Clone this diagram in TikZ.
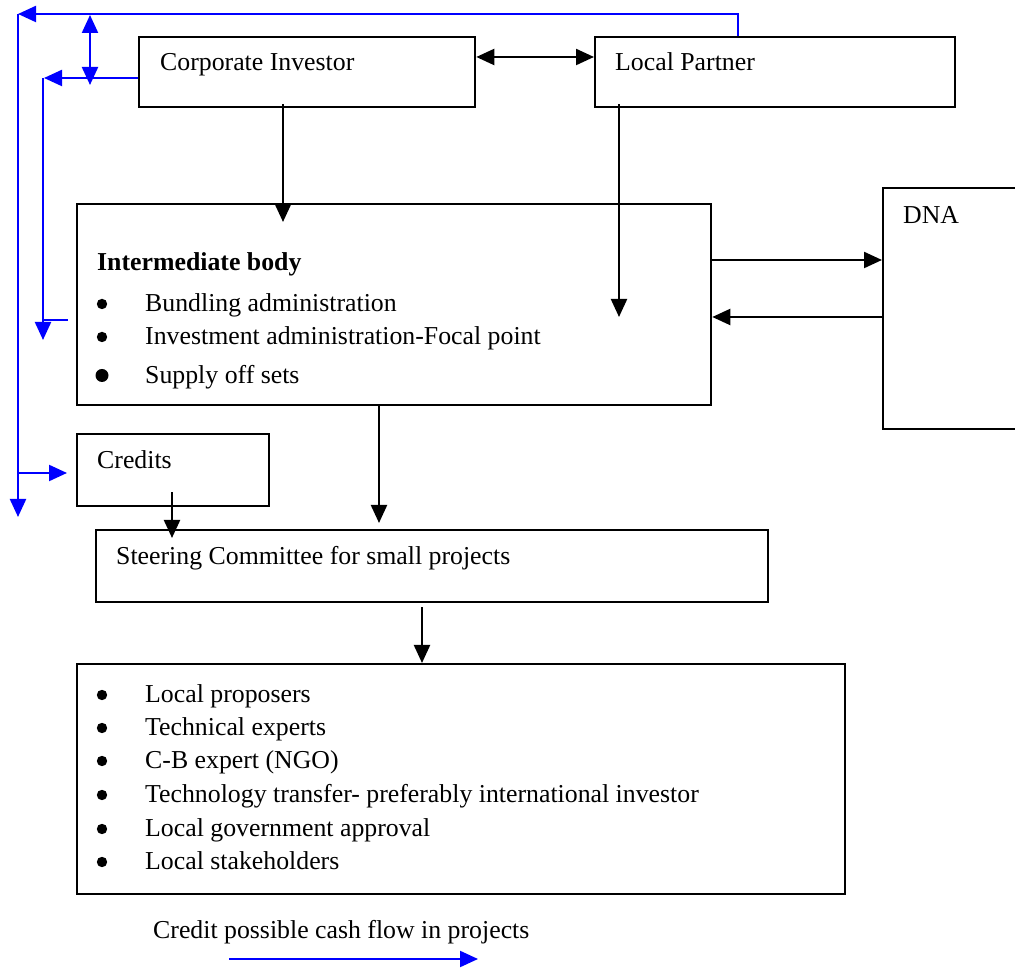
\documentclass[tikz,border=0pt]{standalone}
\usepackage{fontspec}
\setmainfont{Liberation Serif}
\usetikzlibrary{arrows.meta,calc}
\begin{document}
\begin{tikzpicture}[x=1pt,y=1pt,
  box/.style={draw=black,line width=2.3pt,rectangle,inner sep=0pt,anchor=north west},
  lbl/.style={anchor=base west,inner sep=0pt,font=\fontsize{25.8}{30}\selectfont},
  arr/.style={draw=black,line width=2.2pt,-{Triangle[width=16pt,length=18pt]}},
  darr/.style={draw=black,line width=2.2pt,{Triangle[width=16pt,length=18pt]}-{Triangle[width=16pt,length=18pt]}},
  flow/.style={draw=blue,line width=2.2pt,-{Triangle[width=16pt,length=18pt]}},
  dflow/.style={draw=blue,line width=2.2pt,{Triangle[width=16pt,length=18pt]}-{Triangle[width=16pt,length=18pt]}},
  line/.style={draw=blue,line width=2.2pt}]
\clip (0,0) rectangle (1015,969);

% boxes
\node[box,minimum width=336pt,minimum height=70pt] (ci) at (138,933) {};
\node[box,minimum width=360pt,minimum height=70pt] (lp) at (594,933) {};
\node[box,minimum width=634pt,minimum height=201pt] (ib) at (76,766) {};
\node[box,minimum width=200pt,minimum height=241pt] (dna) at (882,782) {};
\node[box,minimum width=192pt,minimum height=72pt] (cr) at (76,536) {};
\node[box,minimum width=672pt,minimum height=72pt] (sc) at (95,440) {};
\node[box,minimum width=768pt,minimum height=230pt] (bt) at (76,306) {};

% labels
\node[lbl] (tci) at (160,898) {Corporate Investor};
\node[lbl] (tlp) at (615,898) {Local Partner};
\node[lbl] (tdna) at (903,745) {DNA};
\node[lbl,font=\fontsize{25.8}{30}\selectfont\bfseries] (tib) at (97,698) {Intermediate body};
\node[lbl] (ib1) at (145,657) {Bundling administration};
\node[lbl] (ib2) at (145,624) {Investment administration-Focal point};
\node[lbl] (ib3) at (145,585) {Supply off sets};
\node[lbl] (tcr) at (97,500) {Credits};
\node[lbl] (tsc) at (116,404) {Steering Committee for small projects};
\node[lbl] (bt1) at (145,266) {Local proposers};
\node[lbl] (bt2) at (145,233) {Technical experts};
\node[lbl] (bt3) at (145,200) {C-B expert (NGO)};
\node[lbl] (bt4) at (145,166) {Technology transfer- preferably international investor};
\node[lbl] (bt5) at (145,132) {Local government approval};
\node[lbl] (bt6) at (145,99) {Local stakeholders};
\node[lbl] (lg) at (153,30) {Credit possible cash flow in projects};

% bullets
\foreach \n in {ib1,ib2,bt1,bt2,bt3,bt4,bt5,bt6}
  \fill ($(\n.base west)+(-43,8)$) circle (5.2);
\fill ($(ib3.base west)+(-43,8.5)$) circle (6.5);

% black connectors
\draw[darr] ($(ci.north east)+(0,-21)$) -- ($(lp.north west)+(0,-21)$);
\draw[arr] ($(ci.south west)+(145,4)$) -- ($(ib.north west)+(207,-19)$);
\draw[arr] ($(lp.south west)+(25,4)$) -- ($(ib.north west)+(543,-114)$);
\draw[arr] ($(ib.north east)+(0,-57)$) -- ($(dna.north west)+(0,-73)$);
\draw[arr] ($(dna.north west)+(0,-130)$) -- ($(ib.north east)+(0,-114)$);
\draw[arr] ($(ib.south west)+(303,0)$) -- ($(sc.north west)+(284,6)$);
\draw[arr] ($(cr.south west)+(96,15)$) -- ($(sc.north west)+(77,-9)$);
\draw[arr] ($(sc.south west)+(327,-4)$) -- ($(bt.north west)+(346,0)$);

% blue credit flows
\coordinate (tl) at ($(lp.north west)+(-576,22)$);
\draw[flow] ($(lp.north west)+(144,0)$) |- (tl);
\draw[flow] (tl) -- ($(tl)+(0,-503)$);
\draw[flow] ($(tl)+(0,-459)$) -- ($(cr.north west)+(-9,-40)$);
\draw[dflow] ($(ci.north west)+(-48,21)$) -- ($(ci.north west)+(-48,-49)$);
\coordinate (cl) at ($(ci.north west)+(-95,-42)$);
\draw[flow] ($(ci.north west)+(0,-42)$) -- ($(cl)+(1,0)$);
\draw[flow] (cl) -- ($(cl)+(0,-262)$);
\draw[line] ($(cl)+(0,-242)$) -- ($(ib.north west)+(-8,-117)$);

% legend
\draw[flow] ($(lg.base west)+(76,-20)$) -- ($(lg.base west)+(325,-20)$);
\end{tikzpicture}
\end{document}
